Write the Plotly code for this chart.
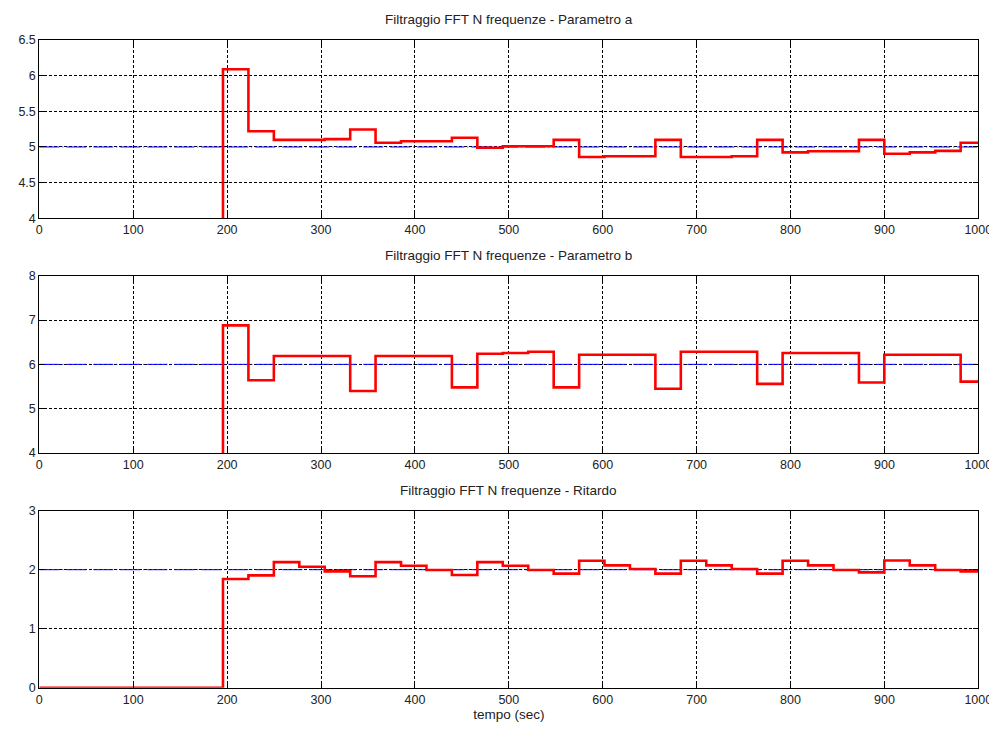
import plotly.graph_objects as go

# ---- data ----
step_times = [0, 195.6, 222.7, 249.8, 276.9, 304.0, 331.1, 358.1, 385.2, 412.3, 439.4,
              466.5, 493.6, 520.7, 547.8, 574.9, 601.9, 629.0, 656.1, 683.2, 710.3,
              737.4, 764.5, 791.6, 818.7, 845.8, 872.9, 899.9, 927.0, 954.1, 981.2]
t_end = 1000

param_a = [0, 6.09, 5.22, 5.10, 5.10, 5.11, 5.245, 5.06, 5.08, 5.08, 5.13,
           4.99, 5.01, 5.01, 5.10, 4.86, 4.87, 4.87, 5.10, 4.86, 4.86,
           4.87, 5.10, 4.925, 4.94, 4.94, 5.10, 4.905, 4.925, 4.945, 5.06]
param_b = [0, 6.88, 5.64, 6.19, 6.19, 6.19, 5.40, 6.19, 6.19, 6.19, 5.48,
           6.24, 6.255, 6.285, 5.48, 6.215, 6.215, 6.215, 5.45, 6.285, 6.285,
           6.285, 5.56, 6.255, 6.255, 6.255, 5.59, 6.215, 6.215, 6.215, 5.61]
ritardo = [0, 1.843, 1.904, 2.129, 2.05, 1.972, 1.888, 2.129, 2.067, 1.994, 1.91,
           2.129, 2.067, 1.994, 1.933, 2.152, 2.073, 2.011, 1.933, 2.152, 2.073,
           2.011, 1.933, 2.152, 2.073, 1.994, 1.955, 2.157, 2.073, 1.994, 1.972]

ref_values = [5, 6, 2]
titles = ["Filtraggio FFT N frequenze - Parametro a",
          "Filtraggio FFT N frequenze - Parametro b",
          "Filtraggio FFT N frequenze - Ritardo"]
y_ranges = [[4, 6.5], [4, 8], [0, 3]]
y_ticks = [[4, 4.5, 5, 5.5, 6, 6.5], [4, 5, 6, 7, 8], [0, 1, 2, 3]]
y_ticktext = [["4", "4.5", "5", "5.5", "6", "6.5"], ["4", "5", "6", "7", "8"], ["0", "1", "2", "3"]]
x_ticks = [0, 100, 200, 300, 400, 500, 600, 700, 800, 900, 1000]
x_label = "tempo (sec)"

series = [param_a, param_b, ritardo]

# ---- layout geometry (page body has an 8px margin) ----
OFF = 8
W, H = 997 - OFF, 732 - 2 * OFF
x_dom = [(39.3 - OFF) / W, (978.3 - OFF) / W]
y_px = [(40, 218.3), (275.7, 453), (510.7, 687.7)]
y_doms = [[1 - (b - OFF) / H, 1 - (t - OFF) / H] for t, b in y_px]

font = dict(family="Liberation Sans, Arial, sans-serif", size=12.5, color="#222222")
title_font = dict(family="Liberation Sans, Arial, sans-serif", size=13.5, color="#222222")

fig = go.Figure()
layout = dict(
    template="none",
    width=W, height=H,
    margin=dict(l=0, r=0, t=0, b=0, autoexpand=False),
    paper_bgcolor="white", plot_bgcolor="white",
    showlegend=False, font=font,
    annotations=[],
)

for i in range(3):
    suf = "" if i == 0 else str(i + 1)
    xa, ya = "x" + suf, "y" + suf
    vals = series[i]
    xs = list(step_times) + [t_end]
    ys = list(vals) + [vals[-1]]
    fig.add_trace(go.Scatter(x=[0, t_end], y=[ref_values[i]] * 2, mode="lines",
                             line=dict(color="#0000ff", width=1, dash="20px,3px,1px,3px"),
                             xaxis=xa, yaxis=ya, hoverinfo="skip"))
    fig.add_trace(go.Scatter(x=xs, y=ys, mode="lines", line_shape="hv",
                             line=dict(color="#ff0000", width=2.6),
                             xaxis=xa, yaxis=ya))
    layout["xaxis" + suf] = dict(
        domain=x_dom, anchor=ya, range=[0, 1000], tickvals=x_ticks, automargin=False,
        ticklabeloverflow="allow",
        showgrid=True, gridcolor="black", gridwidth=1, griddash="3px,2px",
        showline=True, linecolor="black", linewidth=1, mirror="ticks",
        ticks="inside", ticklen=5, tickcolor="black", zeroline=False,
        tickfont=font,
    )
    layout["yaxis" + suf] = dict(
        domain=y_doms[i], anchor=xa, range=y_ranges[i], tickvals=y_ticks[i],
        ticktext=y_ticktext[i], automargin=False, ticklabeloverflow="allow",
        showgrid=True, gridcolor="black", gridwidth=1, griddash="3px,2px",
        showline=True, linecolor="black", linewidth=1, mirror="ticks",
        ticks="inside", ticklen=5, tickcolor="black", zeroline=False,
        tickfont=font,
    )
    layout["annotations"].append(dict(
        text=titles[i], xref="paper", yref="paper",
        x=(x_dom[0] + x_dom[1]) / 2, y=y_doms[i][1], yshift=11,
        xanchor="center", yanchor="bottom", showarrow=False, font=title_font))

layout["xaxis3"]["title"] = dict(text=x_label, font=title_font, standoff=2)

fig.update_layout(**layout)
fig.write_html("out.html")
